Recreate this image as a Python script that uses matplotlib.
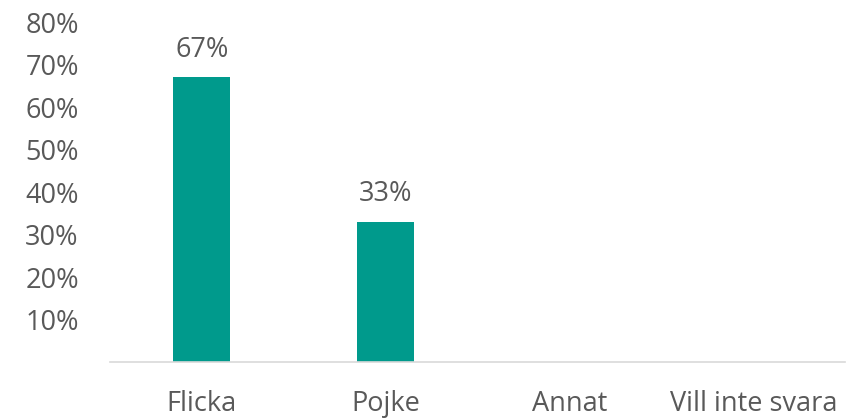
import matplotlib.pyplot as plt
import numpy as np

plt.rcParams['font.family'] = ['Open Sans', 'DejaVu Sans']

categories = ['Flicka', 'Pojke', 'Annat', 'Vill inte svara']
values = [0.67, 0.33, 0.0, 0.0]
labels = ['67%', '33%', None, None]
yticks = [0.1, 0.2, 0.3, 0.4, 0.5, 0.6, 0.7, 0.8]

bar_color = '#009A8C'
text_color = '#595959'

fig = plt.figure(figsize=(8.49, 4.19), dpi=100)
ax = fig.add_axes([0.1296, 0.136, 0.866, 0.811])

x = np.arange(len(categories))
bars = ax.bar(x, values, width=0.31, color=bar_color)

for b, lab in zip(bars, labels):
    if lab:
        ax.annotate(lab, (b.get_x() + b.get_width() / 2, b.get_height()),
                    xytext=(0, 10), textcoords='offset points',
                    ha='center', va='bottom', fontsize=19.5, color=text_color)

ax.set_xlim(-0.5, len(categories) - 0.5)
ax.set_ylim(0, 0.8)
ax.set_xticks(x)
ax.set_xticklabels(categories, fontsize=19.5, color=text_color)
ax.set_yticks(yticks)
ax.set_yticklabels([f'{int(round(t * 100))}%' for t in yticks], fontsize=19.5, color=text_color)
ax.tick_params(axis='both', length=0)
ax.tick_params(axis='x', pad=20)
ax.tick_params(axis='y', pad=61)
for lbl in ax.yaxis.get_majorticklabels():
    lbl.set_horizontalalignment('left')

for s in ['top', 'right', 'left']:
    ax.spines[s].set_visible(False)
ax.spines['bottom'].set_color('#D9D9D9')
ax.spines['bottom'].set_linewidth(1.2)

plt.savefig('out.png', dpi=100)
